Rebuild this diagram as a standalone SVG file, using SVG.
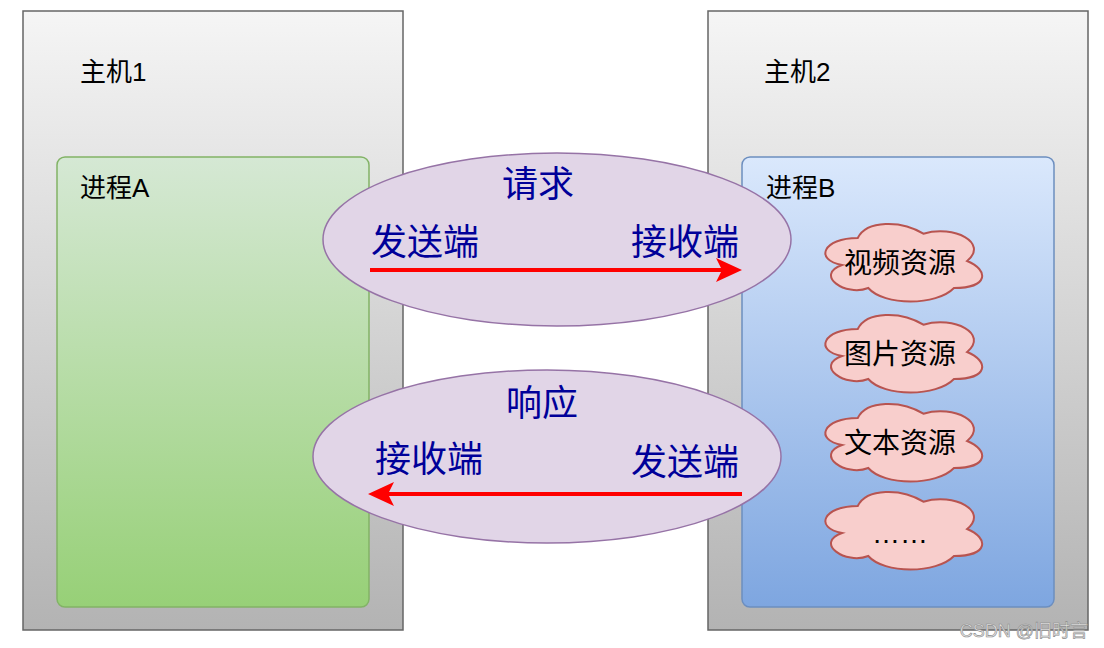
<svg xmlns="http://www.w3.org/2000/svg" width="1104" height="648" viewBox="0 0 1104 648">
<defs>
<linearGradient id="gHost" x1="0" y1="0" x2="0" y2="1"><stop offset="0" stop-color="#f5f5f5"/><stop offset="1" stop-color="#b3b3b3"/></linearGradient>
<linearGradient id="gA" x1="0" y1="0" x2="0" y2="1"><stop offset="0" stop-color="#d5e8d4"/><stop offset="1" stop-color="#97d077"/></linearGradient>
<linearGradient id="gB" x1="0" y1="0" x2="0" y2="1"><stop offset="0" stop-color="#dae8fc"/><stop offset="1" stop-color="#7ea6e0"/></linearGradient>
<path id="cloud" d="M43.75,24 C8.75,24 0,46 28,51 C0,61 31.5,83 54.25,74 C70,92 122.5,92 140,74 C175,74 175,56 153.125,47 C175,28.8 140,10.6 109.375,19.7 C87.5,6 52.5,6 43.75,24 Z"/>
</defs>
<style>
.host{fill:url(#gHost);stroke:#666666;stroke-width:1.5}
.lbl{font-family:"Liberation Sans","Noto Sans CJK SC",sans-serif;font-size:26px;fill:#000000}
.blue{font-family:"Liberation Sans","Noto Sans CJK SC",sans-serif;font-size:36px;fill:#000099}
.ell{fill:#e1d5e7;stroke:#9673a6;stroke-width:1.5}
.cl{fill:#f8cecc;stroke:#b85450;stroke-width:2}
.res{font-family:"Liberation Sans","Noto Sans CJK SC",sans-serif;font-size:28px;fill:#000000;text-anchor:middle}
.edge{stroke:#ff0000;stroke-width:4;fill:none}
.head{fill:#ff0000}
</style>
<rect width="1104" height="648" fill="#ffffff"/>
<g id="host1">
<rect class="host" x="23" y="11" width="380" height="619"/>
<text class="lbl" x="80" y="81">主机1</text>
</g>
<g id="host2">
<rect class="host" x="708" y="11" width="380" height="619"/>
<text class="lbl" x="764" y="81">主机2</text>
</g>
<g id="procA">
<rect x="57" y="157" width="312" height="450" rx="8" fill="url(#gA)" stroke="#82b366" stroke-width="1.5"/>
<text class="lbl" x="80" y="197">进程A</text>
</g>
<g id="procB">
<rect x="742" y="157" width="312" height="450" rx="8" fill="url(#gB)" stroke="#6c8ebf" stroke-width="1.5"/>
<text class="lbl" x="766" y="197">进程B</text>
</g>
<g id="res1"><use href="#cloud" class="cl" x="814" y="214"/><text class="res" x="900" y="273">视频资源</text></g>
<g id="res2"><use href="#cloud" class="cl" x="814" y="305"/><text class="res" x="900" y="364">图片资源</text></g>
<g id="res3"><use href="#cloud" class="cl" x="814" y="394"/><text class="res" x="900" y="453">文本资源</text></g>
<g id="res4"><use href="#cloud" class="cl" x="814" y="482"/><text class="res" x="900" y="543">……</text></g>
<g id="request">
<ellipse class="ell" cx="557" cy="239.5" rx="234" ry="86.5"/>
<text class="blue" x="538" y="197" text-anchor="middle">请求</text>
<text class="blue" x="371" y="255">发送端</text>
<text class="blue" x="631" y="255">接收端</text>
</g>
<g id="response">
<ellipse class="ell" cx="547" cy="456.5" rx="234" ry="86.5"/>
<text class="blue" x="542" y="416" text-anchor="middle">响应</text>
<text class="blue" x="375" y="472">接收端</text>
<text class="blue" x="631" y="475">发送端</text>
</g>
<g id="connectors">
<path class="edge" d="M370,270 L722,270"/>
<path class="head" d="M742,270 L716,258 L722,270 L716,282 Z"/>
<path class="edge" d="M742,494 L388,494"/>
<path class="head" d="M368,494 L394,482 L388,494 L394,506 Z"/>
</g>
<text x="1088" y="637" text-anchor="end" font-family="Liberation Sans,Noto Sans CJK SC,sans-serif" font-size="18" fill="#e6e6e6" stroke="#8c8c8c" stroke-width="0.6">CSDN @旧时言</text>
</svg>
